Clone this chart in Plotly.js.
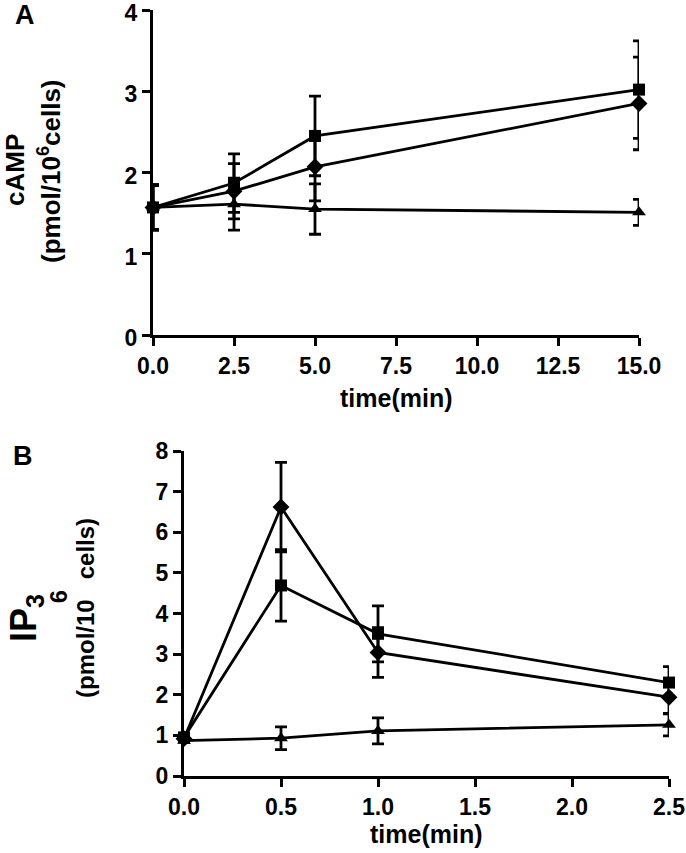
<!DOCTYPE html>
<html>
<head>
<meta charset="utf-8">
<script src="https://cdn.plot.ly/plotly-3.0.1.min.js"></script>
<style>html,body{margin:0;padding:0;background:#fff;}</style>
</head>
<body>
<div id="chart" style="width:686px;height:853px;"></div>
<script>
// Panel A: cAMP
const timeA = [0, 2.5, 5, 15];
const camp_square = [1.57, 1.87, 2.45, 3.02];
const camp_square_err = [0.28, 0.36, 0.49, 0.60];
const camp_diamond = [1.57, 1.77, 2.07, 2.85];
const camp_diamond_err = [0.27, 0.34, 0.42, 0.57];
const camp_triangle = [1.57, 1.61, 1.55, 1.51];
const camp_triangle_err = [0.28, 0.32, 0.31, 0.16];
const ticksA_x = [0, 2.5, 5, 7.5, 10, 12.5, 15];
const ticksA_y = [0, 1, 2, 3, 4];

// Panel B: IP3
const timeB = [0, 0.5, 1, 2.5];
const ip3_square = [0.95, 4.69, 3.50, 2.30];
const ip3_square_err = [0.05, 0.88, 0.69, 0.39];
const ip3_diamond = [0.92, 6.62, 3.04, 1.94];
const ip3_diamond_err = [0.05, 1.10, 0.61, 0.40];
const ip3_triangle = [0.87, 0.93, 1.11, 1.26];
const ip3_triangle_err = [0.05, 0.28, 0.32, 0.27];
const ticksB_x = [0, 0.5, 1, 1.5, 2, 2.5];
const ticksB_y = [0, 1, 2, 3, 4, 5, 6, 7, 8];

const W = 686, H = 853;
const FONT = 'Liberation Sans, Arial, sans-serif';
const px = v => v / W;
const py = v => 1 - v / H;

function series(x, y, err, symbol, size, xa, ya) {
  return {
    x: x, y: y, type: 'scatter', mode: 'lines+markers',
    xaxis: xa, yaxis: ya, cliponaxis: false,
    line: {color: '#000', width: 2.8},
    marker: {symbol: symbol, size: size, color: '#000'},
    error_y: {type: 'data', array: err, visible: true, color: '#000', thickness: 2.8, width: 6},
    hoverinfo: 'skip'
  };
}

const data = [
  series(timeA, camp_triangle, camp_triangle_err, 'triangle-up', 12, 'x', 'y'),
  series(timeA, camp_diamond, camp_diamond_err, 'diamond', 13, 'x', 'y'),
  series(timeA, camp_square, camp_square_err, 'square', 12, 'x', 'y'),
  series(timeB, ip3_triangle, ip3_triangle_err, 'triangle-up', 12, 'x2', 'y2'),
  series(timeB, ip3_diamond, ip3_diamond_err, 'diamond', 13, 'x2', 'y2'),
  series(timeB, ip3_square, ip3_square_err, 'square', 12, 'x2', 'y2')
];

function axis(domain, range, tickvals, fmt, anchor, shift) {
  return {
    domain: domain, range: range, anchor: anchor,
    tickmode: 'array', tickvals: tickvals,
    ticktext: tickvals.map(v => fmt(v)),
    showline: true, linewidth: 3, linecolor: '#000',
    ticks: 'outside', ticklen: 8, tickwidth: 3, tickcolor: '#000',
    showgrid: false, zeroline: false, fixedrange: true,
    ticklabeloverflow: 'allow', ticklabelshift: shift || 0,
    tickfont: {family: FONT, size: 23, color: '#000', weight: 'bold'}
  };
}

function label(text, x, y, size, angle) {
  return {text: text, x: px(x), y: py(y), xref: 'paper', yref: 'paper', showarrow: false,
          textangle: angle || 0, xanchor: 'center', yanchor: 'middle',
          font: {family: FONT, size: size, color: '#000', weight: 'bold'}};
}

const layout = {
  width: W, height: H,
  margin: {l: 0, r: 0, t: 0, b: 0},
  paper_bgcolor: '#fff', plot_bgcolor: '#fff',
  showlegend: false,
  xaxis: axis([px(153), px(639)], [0, 15], ticksA_x, v => v.toFixed(1), 'y'),
  yaxis: axis([py(335), py(10)], [0, 4], ticksA_y, v => String(v), 'x', 3),
  xaxis2: axis([px(184), px(669)], [0, 2.5], ticksB_x, v => v.toFixed(1), 'y2'),
  yaxis2: axis([py(776), py(451)], [0, 8], ticksB_y, v => String(v), 'x2'),
  annotations: [
    label('A', 25, 15, 27),
    label('B', 23, 456, 27),
    label('time(min)', 396, 398, 25),
    label('time(min)', 426, 834, 25),
    label('cAMP', 15, 170, 26, -90),
    label('(pmol/10<sup>6</sup>cells)', 49, 171, 26, -90),
    label('IP<sub>3</sub>', 26, 618, 36, -90),
    label('6', 59, 597, 23, -90),
    label('(pmol/10   cells)', 85, 608, 24, -90)
  ]
};

Plotly.newPlot('chart', data, layout, {staticPlot: true, displayModeBar: false});
</script>
</body>
</html>
